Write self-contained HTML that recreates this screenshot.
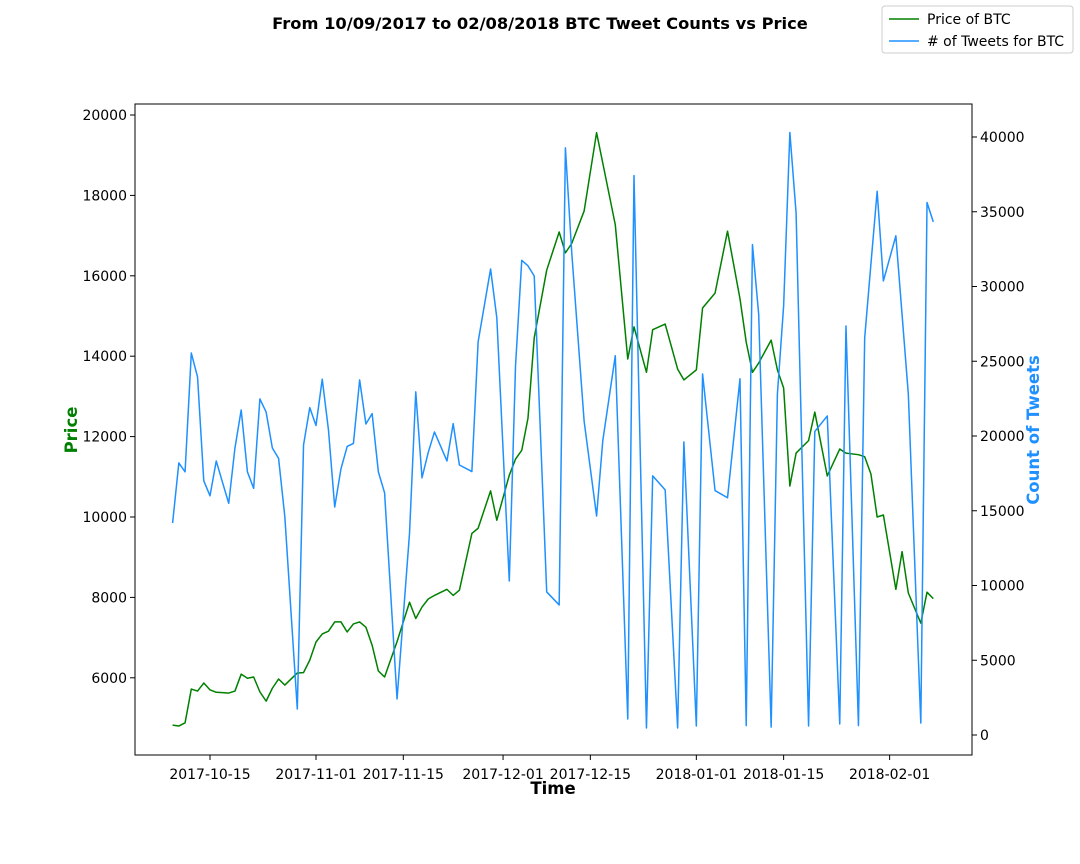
<!DOCTYPE html>
<html><head><meta charset="utf-8"><style>
body{margin:0;background:#fff}
svg{display:block;font-family:"DejaVu Sans","Liberation Sans",sans-serif}
</style></head><body>
<svg id="chart" width="1080" height="864" viewBox="0 0 1080 864" xmlns="http://www.w3.org/2000/svg">
<rect width="1080" height="864" fill="#fff"/>
<text x="540" y="29" text-anchor="middle" font-size="16.3" font-weight="bold">From 10/09/2017 to 02/08/2018 BTC Tweet Counts vs Price</text>
<g id="plot"></g>
<g>
<rect x="882" y="6" width="191" height="47" rx="3" fill="#fff" stroke="#ccc"/>
<line x1="889" y1="19" x2="919" y2="19" stroke="#008000" stroke-width="1.5"/>
<text x="927" y="24" font-size="14">Price of BTC</text>
<line x1="889" y1="41" x2="919" y2="41" stroke="#1E90FF" stroke-width="1.5"/>
<text x="927" y="46" font-size="14"># of Tweets for BTC</text>
</g>
<text x="553" y="794" text-anchor="middle" font-size="16.5" font-weight="bold">Time</text>
<text transform="translate(77,430) rotate(-90)" text-anchor="middle" font-size="16.5" font-weight="bold" fill="#008000">Price</text>
<text transform="translate(1039,430) rotate(-90)" text-anchor="middle" font-size="16.5" font-weight="bold" fill="#1E90FF">Count of Tweets</text>
</svg>
<script>
// day offsets from 2017-10-09
const days=[0,1,2,3,4,5,6,7,8,9,10,11,12,13,14,15,16,17,18,20,21,22,23,24,25,26,27,28,29,30,31,32,33,34,36,38,39,40,41,42,44,45,46,48,49,51,52,54,55,56,57,58,60,62,63,64,66,68,69,71,73,74,76,77,79,81,82,84,85,87,89,91,92,93,94,96,97,98,99,100,102,103,105,107,108,110,111,112,113,114,116,117,118,120,121,122];
const prices=[4823,4800,4880,5720,5670,5870,5700,5640,5630,5620,5670,6090,5990,6020,5650,5420,5740,5970,5820,6120,6130,6440,6890,7090,7160,7390,7390,7140,7340,7390,7260,6810,6170,6020,6900,7880,7475,7760,7960,8050,8200,8050,8180,9590,9720,10650,9920,11040,11440,11660,12460,14460,16140,17090,16570,16800,17610,19560,18800,17270,13930,14730,13600,14660,14800,13680,13410,13660,15200,15570,17110,15430,14350,13600,13830,14400,13660,13210,10770,11590,11900,12610,11020,11690,11590,11550,11500,11070,10000,10050,8200,9140,8110,7360,8130,7970];
const tweets=[14180,18200,17600,25550,23950,17000,16000,18330,16900,15500,19200,21740,17600,16500,22480,21600,19200,18500,14600,1740,19400,21900,20700,23800,20400,15250,17800,19300,19500,23750,20800,21500,17600,16200,2410,13500,22950,17200,18900,20270,18330,20830,18060,17620,26300,31170,27900,10300,24700,31750,31380,30700,9570,8700,39270,32360,21000,14650,19700,25370,1070,37420,470,17330,16400,470,19600,600,24150,16350,15870,23830,630,32800,28140,530,22800,28700,40300,34900,600,20300,21340,740,27360,630,26560,31500,36370,30370,33390,28100,22800,800,35620,34320];
const xTickLabels=["2017-10-15","2017-11-01","2017-11-15","2017-12-01","2017-12-15","2018-01-01","2018-01-15","2018-02-01"];
const xTickDays=[6,23,37,53,67,84,98,115];
const leftTicks=[6000,8000,10000,12000,14000,16000,18000,20000];
const rightTicks=[0,5000,10000,15000,20000,25000,30000,35000,40000];

const L=135,R=972,T=104,B=755;
const x=d=>172.6+6.235*d;
const yP=p=>115+(20000-p)*0.0402;
const yT=c=>735-c*0.01495;
const NS="http://www.w3.org/2000/svg";
const g=document.getElementById('plot');
function mk(tag,attrs,parent){const e=document.createElementNS(NS,tag);for(const k in attrs)e.setAttribute(k,attrs[k]);(parent||g).appendChild(e);return e;}

const frame=mk('rect',{x:L,y:T,width:R-L,height:B-T,fill:'none',stroke:'#000','stroke-width':1});



xTickDays.forEach((d,i)=>{
  const xx=x(d);
  const tk=mk('line',{x1:xx,y1:B,x2:xx,y2:B+5,stroke:'#000'});
  
  
  const t=mk('text',{x:xx,y:B+24,'text-anchor':'middle','font-size':14});
  
  
  t.textContent=xTickLabels[i];
});
leftTicks.forEach(v=>{
  const yy=yP(v);
  const tk=mk('line',{x1:L-5,y1:yy,x2:L,y2:yy,stroke:'#000'});
  
  
  const t=mk('text',{x:L-8,y:yy+5,'text-anchor':'end','font-size':14});
  
  
  t.textContent=v;
});
rightTicks.forEach(v=>{
  const yy=yT(v);
  const tk=mk('line',{x1:R,y1:yy,x2:R+5,y2:yy,stroke:'#000'});
  
  
  const t=mk('text',{x:R+8,y:yy+5,'text-anchor':'start','font-size':14});
  
  
  t.textContent=v;
});

const pp=mk('polyline',{points:days.map((d,i)=>x(d)+','+yP(prices[i])).join(' '),fill:'none',stroke:'#008000','stroke-width':1.5,'stroke-linejoin':'round'});


const tp=mk('polyline',{points:days.map((d,i)=>x(d)+','+yT(tweets[i])).join(' '),fill:'none',stroke:'#1E90FF','stroke-width':1.5,'stroke-linejoin':'round'});


</script>
</body></html>
